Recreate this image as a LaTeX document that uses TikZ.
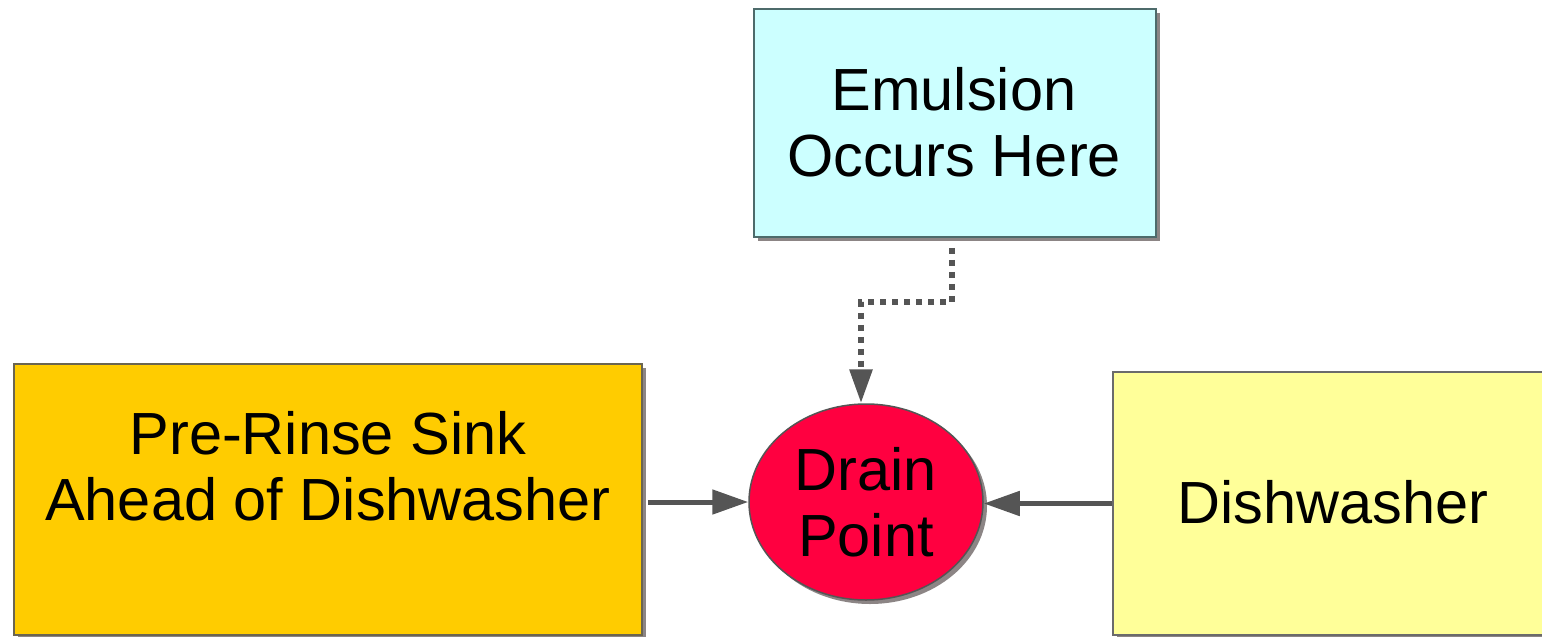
\documentclass[tikz,border=0pt]{standalone}
\usepackage{fontspec}
\setmainfont{Liberation Sans}
\usetikzlibrary{arrows.meta,shadows,shapes.geometric}
\definecolor{shadowc}{HTML}{8C8585}
\definecolor{linec}{HTML}{555555}
\definecolor{emulfill}{HTML}{CCFFFF}
\definecolor{emulline}{HTML}{4D6B6B}
\definecolor{prefill}{HTML}{FFCC00}
\definecolor{preline}{HTML}{6B6550}
\definecolor{dishfill}{HTML}{FFFF99}
\definecolor{dishline}{HTML}{6B6B6B}
\definecolor{drainfill}{HTML}{FF0040}
\begin{document}
\begin{tikzpicture}[x=1pt,y=-1pt,
  shadowed/.style={drop shadow={shadow xshift=4pt,shadow yshift=-4pt,fill=shadowc,opacity=1}},
  boxnode/.style={rectangle,draw,line width=1.5pt,inner sep=0pt,shadowed},
  txt/.style={font=\fontsize{59.5}{66}\selectfont,align=center,inner sep=0pt},
  conn/.style={draw=linec,line width=5pt,-{Triangle[length=36pt,width=24pt]}},
  dotconn/.style={draw=linec,line width=6pt,dash pattern=on 6pt off 6pt,-{Triangle[length=34pt,width=22pt]}}]
\useasboundingbox (0,0) rectangle (1542,637);
\node[boxnode,fill=emulfill,draw=emulline,minimum width=402pt,minimum height=228pt] (emul) at (955,123) {};
\node[txt] (emult) at (954,122) {Emulsion\\Occurs Here};
\node[boxnode,fill=prefill,draw=preline,minimum width=628pt,minimum height=271pt] (pre) at (328,499.5) {};
\node[txt] (pret) at (328,466) {Pre-Rinse Sink\\Ahead of Dishwasher};
\node[boxnode,fill=dishfill,draw=dishline,minimum width=446pt,minimum height=263pt] (dish) at (1336,503.5) {};
\node[txt] (disht) at (1333,502) {Dishwasher};
\node[ellipse,draw=linec,line width=1.5pt,fill=drainfill,shadowed,minimum width=234pt,minimum height=196pt,inner sep=0pt] (drain) at (866,502) {};
\node[txt] (draint) at (866,502) {Drain\\Point};
\coordinate (ds) at ([xshift=-3pt]emul.south);
\coordinate (dt) at ([xshift=-5pt]drain.north);
\draw[conn,shorten <=5pt] (pre.east |- drain.west) -- (drain.west);
\draw[conn] (dish.west) -- (dish.west -| drain.east);
\draw[dotconn,shorten <=10pt] (ds) -- ++(0,64) -| (dt);
\end{tikzpicture}
\end{document}
